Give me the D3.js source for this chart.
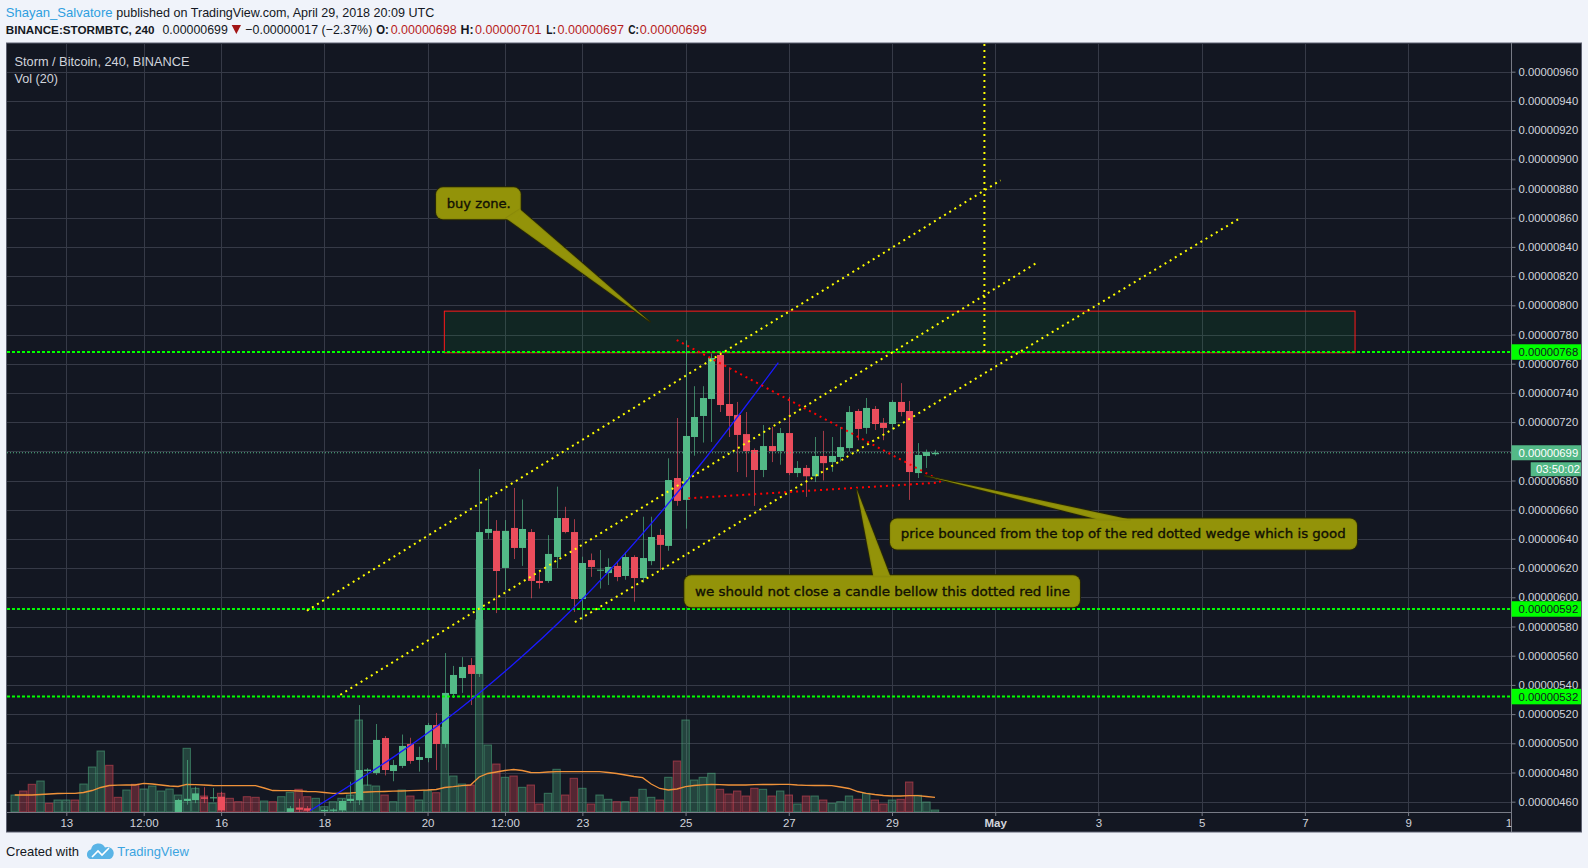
<!DOCTYPE html>
<html><head><meta charset="utf-8">
<script src="https://cdn.jsdelivr.net/npm/d3@7"></script>
<style>html,body{margin:0;padding:0;background:#f0f3fa;}svg{display:block;}</style>
</head><body>
<svg id="c" width="1588" height="868"></svg>
<script>
// ---------------- DATA (prices in satoshi = 1e-8 BTC) ----------------
const candleTime = ["2018-04-15 04","2018-04-15 08","2018-04-15 12","2018-04-15 16","2018-04-15 20","2018-04-16 00",
"2018-04-17 08","2018-04-17 12","2018-04-17 16","2018-04-18 00","2018-04-18 04","2018-04-18 08","2018-04-18 12","2018-04-18 16","2018-04-18 20",
"2018-04-19 00","2018-04-19 04","2018-04-19 08","2018-04-19 12","2018-04-19 16","2018-04-19 20",
"2018-04-20 00","2018-04-20 04","2018-04-20 08","2018-04-20 12","2018-04-20 16","2018-04-20 20",
"2018-04-21 00","2018-04-21 04","2018-04-21 08","2018-04-21 12","2018-04-21 16","2018-04-21 20",
"2018-04-22 00","2018-04-22 04","2018-04-22 08","2018-04-22 12","2018-04-22 16","2018-04-22 20",
"2018-04-23 00","2018-04-23 04","2018-04-23 08","2018-04-23 12","2018-04-23 16","2018-04-23 20",
"2018-04-24 00","2018-04-24 04","2018-04-24 08","2018-04-24 12","2018-04-24 16","2018-04-24 20",
"2018-04-25 00","2018-04-25 04","2018-04-25 08","2018-04-25 12","2018-04-25 16","2018-04-25 20",
"2018-04-26 00","2018-04-26 04","2018-04-26 08","2018-04-26 12","2018-04-26 16","2018-04-26 20",
"2018-04-27 00","2018-04-27 04","2018-04-27 08","2018-04-27 12","2018-04-27 16","2018-04-27 20",
"2018-04-28 00","2018-04-28 04","2018-04-28 08","2018-04-28 12","2018-04-28 16","2018-04-28 20",
"2018-04-29 00","2018-04-29 04","2018-04-29 08","2018-04-29 12","2018-04-29 16","2018-04-29 20"];
const candleOpen = [452,460.5,461.1,463,462.8,463.4, 453,456,455.5,453.5,453.8,454,460.5,461,481,
479.7,503.6,481,484.5,499.5,488.6, 489.9,512.5,499.5,533.8,544.7,553.6, 547.5,644.1,645.5,620.1,647.5,633.8,
644.7,611.2,611.2,627.6,654.3,644.7, 598.8,625.5,618.5,616.6,621.5,614.6, 627.6,613.2,624.8,642.7,635.2,681.7,
666.7,709.8,724.2,735.8,766,732.4, 724.9,711.8,700.9,687.2,703.6,700.2, 712.5,685.1,688.6,682.9,696.8,692.6,
696.1,702.2,727.6,716,729,719.4, 718.7,733.8,727.6,685.1,696.8,698];
const candleHigh = [462,488.6,470.3,469.9,469.4,466.8, 457,462,457,455.5,455.5,462,473.7,526.2,483,
513.2,505,488.6,506,503.8,497.7, 514,520.8,561.8,553,559,558.4, 687.9,669,652.9,652.9,674.9,667,
646.8,617.5,642.6,675.8,662,653.5, 627.8,630,632.4,626.7,624,631, 628.8,655.2,655.2,646.8,695.2,722.8,
776,744.6,744.6,767,768.6,757.5, 733.8,726.9,702,718,716.7,716, 737.2,693.3,690.6,709.8,714,709.8,
716.7,731,729,736.5,731,722.8, 735,746.7,734.5,705.6,701.2,701];
const candleLow = [449,458,459,459,460,450, 451,452,452,452,452,452,459,457.8,471,
478.3,478,474,483,486,480.6, 487,481.7,497,531,534.5,526.2, 545.4,640,589.2,605,626.2,621.5,
599.3,606,609.9,620,643.8,590, 584.6,614,606,608.4,611,612, 597,610,622,618.7,631.9,662.7,
647,697,706,706.4,726.9,709.8, 685.8,682.3,662.6,682.3,692.6,690.8, 683.7,682.3,668.8,679,680,686,
693,700,707.6,712,714.6,707.6, 715,724,666.7,681.7,688.6,697];
const candleClose = [461.2,462,465.7,462,463,454, 455.5,454.5,453.8,454.4,454.6,460.5,462,481.7,482,
502.3,481.7,485.1,498.2,487.9,490.6, 512.5,499.5,534.5,546.8,552.3,547.5, 644.7,646.8,618,645.5,633.8,646.8,
611.2,609.8,629.7,654.3,644.7,598.8, 623.5,620.8,618.9,620.8,613.9,627.6, 613.2,626.9,641.3,635.9,680.3,666,
710.5,723.5,736.5,763.9,731.7,724.2, 711.2,700.2,687.2,703.6,700.2,712.5, 685.1,688.6,682.9,696.8,691.9,696.8,
702.9,726.9,715.3,729.7,718.7,716, 733.8,726.9,685.8,697.5,699.5,699];

// volume bars, one every 4h starting 2018-04-12 00:00 UTC (arbitrary units)
const volStart = "2018-04-12 00";
const volValue = [17,21,27.7,31,8.7,12,12,12,28,45, 61,46.7,14.7,22,27.7,23,26,21,23,17,
63.7,23.7,16,9,18.7,13.7,10.3,15.3,14.7,11, 10.3,15.3,19.7,22.7,15.3,13.7,5.3,10.3,13.7,17,
92,27,26,17,10.3,22,16,12,21.3,19.3, 84.7,36,28,27,192,67,48,34.7,36,24.7,
27,8,18.7,42.7,17,33.7,23.7,8,17,12.7, 10.3,10.3,14.7,22.7,14.7,12,34.7,51,92,32,
34.7,38.7,22.7,18,21,16,23.7,22.7,16,21, 17,8,16,16,12,8.7,10.3,16,12.7,18.7,
12,8,12,12.7,30,16.7,10,2];
const volDirList = ("u d d u d u u d u u " + "u d d u d u u u u u " + "u u d u d d d d d u " + "d u u d d u u u u u " +
  "u u u d u u d u u d " + "u u u d u u d u d u " + "d d u u d d u d u u " + "d u d u u d u d u u " +
  "u u d d d d d u d u " + "d u d u d u u u d u " + "d d u d d u u u").trim().split(" ");
// Vol MA(20)
const volMA = [17,17,17,17.5,18,18.5,18.7,18.7,19.5,21.5, 24.5,26.5,26.8,27,27,28.7,28,27,26,25.5,
27.7,27.3,27,26.5,26.3,26.3,26.3,26.3,26.3,24, 21.5,21.3,21.3,21,20.5,20.3,19.5,18.7,18.5,19,
19.7,20,20.3,20.5,20.8,21,21.3,21.7,22,22.5, 24.5,25.3,26.3,27,35,38.5,40,41.5,42.5,41.5,
39.5,39.3,40,40.3,40.3,40.3,40.3,40.3,40.3,39.5, 38.5,37,35.5,34.3,28,23.5,22,23,25.3,26.5,
27.2,27.7,27.3,27,27,27,27.3,27.5,27.5,27.7, 27.7,27,26.7,26.5,26.5,26.3,25,23.5,20.5,18.7,
17.5,16.5,16,16,16.3,16.3,15.5,14.7];

const priceTicks = d3.range(460, 961, 20);
const timeTickDates = ["2018-04-13 00","2018-04-14 12","2018-04-16 00","2018-04-18 00","2018-04-20 00","2018-04-21 12",
 "2018-04-23 00","2018-04-25 00","2018-04-27 00","2018-04-29 00","2018-05-01 00","2018-05-03 00","2018-05-05 00",
 "2018-05-07 00","2018-05-09 00","2018-05-11 00"];
const timeTickLabels = ["13","12:00","16","18","20","12:00","23","25","27","29","May","3","5","7","9","11"];

const levelPrices = [768, 592, 532];
const lastPrice = 699;

// drawings: [time, price] points
const yellowChannel = [
  [["2018-04-17T15:53Z",590.8],["2018-05-01T02:30Z",885.6]],
  [["2018-04-18T07:25Z",533.2],["2018-05-01T18:57Z",828.8]],
  [["2018-04-22T20:30Z",583.0],["2018-05-05T18:10Z",860.0]]];
const yellowVertical = [["2018-04-30T18:58Z",768],["2018-04-30T18:58Z",985]];
const blueCurve = [["2018-04-17T17:20Z",453.8],["2018-04-20T22:51Z",532.9],["2018-04-22T19:47Z",592.5],
  ["2018-04-25T06:42Z",690.6],["2018-04-26T19:08Z",760.7]];
const redWedge = [
  [["2018-04-24T19:52Z",776.2],["2018-04-29T22:19Z",680.0]],
  [["2018-04-25T01:16Z",667.8],["2018-04-29T22:19Z",678.6]],
  [["2018-04-29T22:19Z",680.0],["2018-04-29T22:19Z",675.9]]];
const buyZone = {t0:"2018-04-20T07:48Z", t1:"2018-05-07T23:20Z", p0:767.5, p1:796};
const calloutText = ["buy zone.", "price bounced from the top of the red dotted wedge which is good",
  "we should not close a candle bellow this dotted red line"];
const calloutBox = [["2018-04-20T03:56Z",880.8],["2018-04-28T23:04Z",654.0],["2018-04-24T23:24Z",615.1]];
const calloutTip = [["2018-04-24T07:26Z",788.8],["2018-04-29T15:20Z",683.3],["2018-04-28T07:35Z",674.0]];

// ---------------- LAYOUT / SCALES ----------------
const P = {l:7, t:43.5, r:1511.5, b:812};
const pT = d3.utcParse("%Y-%m-%d %H");
const iso = d3.isoParse;
const x = d3.scaleUtc().domain([pT("2018-04-13 00"), pT("2018-05-11 00")]).range([66.3, 1511.3]);
const y = d3.scaleLinear().domain([460, 960]).range([801.7, 71.7]);
const vy = d3.scaleLinear().domain([0, 200]).range([P.b, P.b - 200]);
const fmtP = v => (v * 1e-8).toFixed(8);
const UP = "#53b987", DN = "#eb4d5c";
const FONT = "'Liberation Sans', Arial, sans-serif";

const svg = d3.select("#c");
svg.append("rect").attr("width",1588).attr("height",868).attr("fill","#f0f3fa");

// ---------------- HEADER ----------------
const hdr = svg.append("g").attr("font-family", FONT);
const hItems = [
 ["Shayan_Salvatore", 5.8, 112.5, 17, "#2f9fe0", "normal", 13],
 ["published on TradingView.com, April 29, 2018 20:09 UTC", 116.3, 434.3, 17, "#131722", "normal", 13],
 ["BINANCE:STORMBTC, 240", 5.8, 154.5, 34, "#131722", "bold", 11.4],
 ["0.00000699", 162.5, 227.8, 34, "#131722", "normal", 13],
 ["\u22120.00000017 (\u22122.37%)", 245.3, 372.3, 34, "#131722", "normal", 13],
 ["O:", 376.2, 388.8, 34, "#131722", "bold", 12.5],
 ["0.00000698", 390.7, 456.6, 34, "#b71c1c", "normal", 13],
 ["H:", 460.5, 473.6, 34, "#131722", "bold", 12.5],
 ["0.00000701", 475, 541.4, 34, "#b71c1c", "normal", 13],
 ["L:", 546.3, 556, 34, "#131722", "bold", 12.5],
 ["0.00000697", 557.4, 623.9, 34, "#b71c1c", "normal", 13],
 ["C:", 628.2, 638.9, 34, "#131722", "bold", 12.5],
 ["0.00000699", 639.8, 706.7, 34, "#b71c1c", "normal", 13]];
hItems.forEach(d => hdr.append("text").attr("x", d[1]).attr("y", d[3]).attr("fill", d[4])
  .attr("font-weight", d[5]).attr("font-size", d[6]).attr("textLength", d[2]-d[1]).attr("lengthAdjust","spacingAndGlyphs").text(d[0]));
hdr.append("path").attr("d","M231.7,25 L241,25 L236.35,34 Z").attr("fill","#a31515");

// ---------------- PANEL ----------------
svg.append("rect").attr("x",6.5).attr("y",43).attr("width",1575).attr("height",789)
  .attr("fill","#131722").attr("stroke","#5d6170").attr("stroke-width",1);
const defs = svg.append("defs");
defs.append("clipPath").attr("id","plot").append("rect")
  .attr("x",P.l).attr("y",P.t).attr("width",P.r-P.l).attr("height",P.b-P.t);
defs.append("clipPath").attr("id","taxis").append("rect")
  .attr("x",P.l).attr("y",P.b).attr("width",P.r-P.l).attr("height",20);
const plot = svg.append("g").attr("clip-path","url(#plot)");

// grid
const grid = plot.append("g").attr("stroke","#363a47").attr("stroke-width",1);
priceTicks.forEach(p => grid.append("line").attr("x1",P.l).attr("x2",P.r)
  .attr("y1",Math.round(y(p))+0.5).attr("y2",Math.round(y(p))+0.5));
timeTickDates.forEach(t => grid.append("line").attr("y1",P.t).attr("y2",P.b)
  .attr("x1",Math.round(x(pT(t)))+0.5).attr("x2",Math.round(x(pT(t)))+0.5));

// buy zone
plot.append("rect").attr("x",x(iso(buyZone.t0))).attr("y",y(buyZone.p1))
  .attr("width",x(iso(buyZone.t1))-x(iso(buyZone.t0))).attr("height",y(buyZone.p0)-y(buyZone.p1))
  .attr("fill","rgba(0,200,60,0.09)").attr("stroke","#ff1a1a").attr("stroke-width",1);

// volume
const t0 = pT(volStart);
const vG = plot.append("g");
volValue.forEach((v,i) => {
  const t = new Date(t0.getTime() + i*4*3600e3);
  const up = volDirList[i] === "u";
  const cx = x(t);
  vG.append("rect").attr("x",cx-3.7).attr("y",vy(v)).attr("width",7.4).attr("height",P.b - vy(v))
    .attr("fill", up ? "rgba(83,185,135,0.28)" : "rgba(235,77,92,0.30)")
    .attr("stroke", up ? "rgba(83,185,135,0.5)" : "rgba(235,77,92,0.5)").attr("stroke-width",1);
});
plot.append("path").datum(volMA)
  .attr("d", d3.line().x((d,i)=>x(new Date(t0.getTime()+i*4*3600e3))).y(d=>vy(d)))
  .attr("fill","none").attr("stroke","#f0923a").attr("stroke-width",1.3);

// candles
const cG = plot.append("g");
candleTime.forEach((ts,i) => {
  const cx = Math.round(x(pT(ts)));
  const o = candleOpen[i], h = candleHigh[i], l = candleLow[i], c = candleClose[i];
  const col = c >= o ? UP : DN;
  cG.append("line").attr("x1",cx+0.5).attr("x2",cx+0.5).attr("y1",y(h)).attr("y2",y(l))
    .attr("stroke",col).attr("stroke-opacity",0.65).attr("stroke-width",1);
  const yt = y(Math.max(o,c)), yb = y(Math.min(o,c));
  cG.append("rect").attr("x",cx-3).attr("width",7).attr("y",yt).attr("height",Math.max(1,yb-yt)).attr("fill",col);
});

// last price line
plot.append("line").attr("x1",P.l).attr("x2",P.r).attr("y1",y(lastPrice)).attr("y2",y(lastPrice))
  .attr("stroke",UP).attr("stroke-width",1).attr("stroke-dasharray","1,2");

// levels
levelPrices.forEach(p => plot.append("line").attr("x1",P.l).attr("x2",P.r).attr("y1",y(p)).attr("y2",y(p))
  .attr("stroke","#00ff00").attr("stroke-width",2).attr("stroke-dasharray","3,2"));

const pt = d => [x(iso(d[0])), y(d[1])];
// yellow channel
yellowChannel.concat([yellowVertical]).forEach(seg => plot.append("path").attr("d", d3.line()(seg.map(pt)))
  .attr("fill","none").attr("stroke","#ffff00").attr("stroke-width",2).attr("stroke-dasharray","2,4"));
// blue curve
plot.append("path").attr("d", d3.line().curve(d3.curveMonotoneX)(blueCurve.map(pt)))
  .attr("fill","none").attr("stroke","#1a1aff").attr("stroke-width",1.3);
// red wedge
redWedge.forEach(seg => plot.append("path").attr("d", d3.line()(seg.map(pt)))
  .attr("fill","none").attr("stroke","#ff0000").attr("stroke-width",2).attr("stroke-dasharray","2,4"));

// callouts
const boxSize = [[84.7,32],[467,31],[395.7,32]];
const wedgeBase = [[[70,31],[84,22]],[[208,1],[240,1]],[[189,1],[206,1]]];
const textLen = [64,445,375];
calloutText.forEach((txt,i) => {
  const [bx,by] = pt(calloutBox[i]);
  const [tx,ty] = pt(calloutTip[i]);
  const [w,h] = boxSize[i];
  const poly = [[bx+wedgeBase[i][0][0],by+wedgeBase[i][0][1]],[tx,ty],[bx+wedgeBase[i][1][0],by+wedgeBase[i][1][1]]];
  const g = plot.append("g");
  ["stroke","fill"].forEach(layer => {
    const st = layer === "stroke";
    g.append("rect").attr("x",bx).attr("y",by).attr("width",w).attr("height",h).attr("rx",7)
      .attr("fill","#93930a").attr("fill-opacity",st?1:0.92)
      .attr("stroke",st?"#262606":"none").attr("stroke-width",2);
    g.append("path").attr("d","M"+poly.join("L")+"Z")
      .attr("fill","#93930a").attr("fill-opacity",st?1:0.92)
      .attr("stroke",st?"#262606":"none").attr("stroke-width",2).attr("stroke-linejoin","round");
  });
  g.append("text").attr("x",bx+10.7).attr("y",by+h/2+4.5).attr("font-family","'DejaVu Sans', Verdana, sans-serif")
    .attr("font-size",13).attr("fill","#111104").attr("stroke","#111104").attr("stroke-width",0.35)
    .attr("textLength",textLen[i]).attr("lengthAdjust","spacingAndGlyphs").text(txt);
});

// legend
const lg = svg.append("g").attr("font-family",FONT).attr("fill","#d1d4dc").attr("font-size",12.5);
lg.append("text").attr("x",14.5).attr("y",65.5).attr("textLength",175).attr("lengthAdjust","spacingAndGlyphs").text("Storm / Bitcoin, 240, BINANCE");
lg.append("text").attr("x",14.5).attr("y",82.5).attr("textLength",43.5).attr("lengthAdjust","spacingAndGlyphs").text("Vol (20)");

// ---------------- AXES ----------------
const ya = svg.append("g").attr("transform",`translate(${P.r},0)`)
  .call(d3.axisRight(y).tickValues(priceTicks).tickFormat(fmtP).tickSize(4).tickPadding(3));
ya.select(".domain").remove();
ya.selectAll("line").attr("stroke","#787b86");
ya.selectAll("text").attr("fill","#d1d4dc").attr("font-family",FONT).attr("font-size",11.3);
svg.append("line").attr("x1",P.r).attr("x2",P.r).attr("y1",43).attr("y2",832).attr("stroke","#787b86");
svg.append("line").attr("x1",P.l).attr("x2",P.r).attr("y1",P.b+0.5).attr("y2",P.b+0.5).attr("stroke","#787b86");

const xa = svg.append("g").attr("clip-path","url(#taxis)").append("g").attr("transform",`translate(0,${P.b})`)
  .call(d3.axisBottom(x).tickValues(timeTickDates.map(pT)).tickFormat((d,i)=>timeTickLabels[i]).tickSize(4).tickPadding(3));
xa.select(".domain").remove();
xa.selectAll("line").attr("stroke","#787b86");
xa.selectAll("text").attr("fill","#d1d4dc").attr("font-family",FONT).attr("font-size",11.5)
  .attr("font-weight",(d,i)=>timeTickLabels[i]==="May"?"bold":"normal");

// price labels (highlighted)
const lab = svg.append("g").attr("font-family",FONT).attr("font-size",11.3);
function plabel(p, fill, tcol, h) {
  const cy = y(p);
  lab.append("rect").attr("x",P.r).attr("y",cy-h/2).attr("width",1581-P.r).attr("height",h).attr("fill",fill);
  lab.append("text").attr("x",P.r+7).attr("y",cy+4).attr("fill",tcol).text(fmtP(p));
}
levelPrices.forEach(p => plabel(p, "#00ff00", "#131722", 15.5));
plabel(lastPrice, UP, "#ffffff", 15);
lab.append("rect").attr("x",1530.7).attr("y",y(lastPrice)+9.5).attr("width",1581-1530.7).attr("height",14).attr("fill",UP);
lab.append("text").attr("x",1536).attr("y",y(lastPrice)+20.5).attr("fill","#ffffff").text("03:50:02");

// ---------------- FOOTER ----------------
const ft = svg.append("g").attr("font-family",FONT).attr("font-size",13);
ft.append("text").attr("x",6).attr("y",855.5).attr("fill","#131722").attr("textLength",73).attr("lengthAdjust","spacingAndGlyphs").text("Created with");
ft.append("path").attr("d","M90,859 a5,5 0 0 1 1,-9.5 a7.5,7.5 0 0 1 14,-2 a6,6 0 0 1 5,11.5 Z").attr("fill","#5ab4e6");
ft.append("path").attr("d","M92,857 L98,851 L102,855 L109,848").attr("fill","none").attr("stroke","#ffffff").attr("stroke-width",1.6);
ft.append("text").attr("x",117.3).attr("y",855.5).attr("fill","#3ba4e0").attr("textLength",71.5).attr("lengthAdjust","spacingAndGlyphs").text("TradingView");
</script>
</body></html>
